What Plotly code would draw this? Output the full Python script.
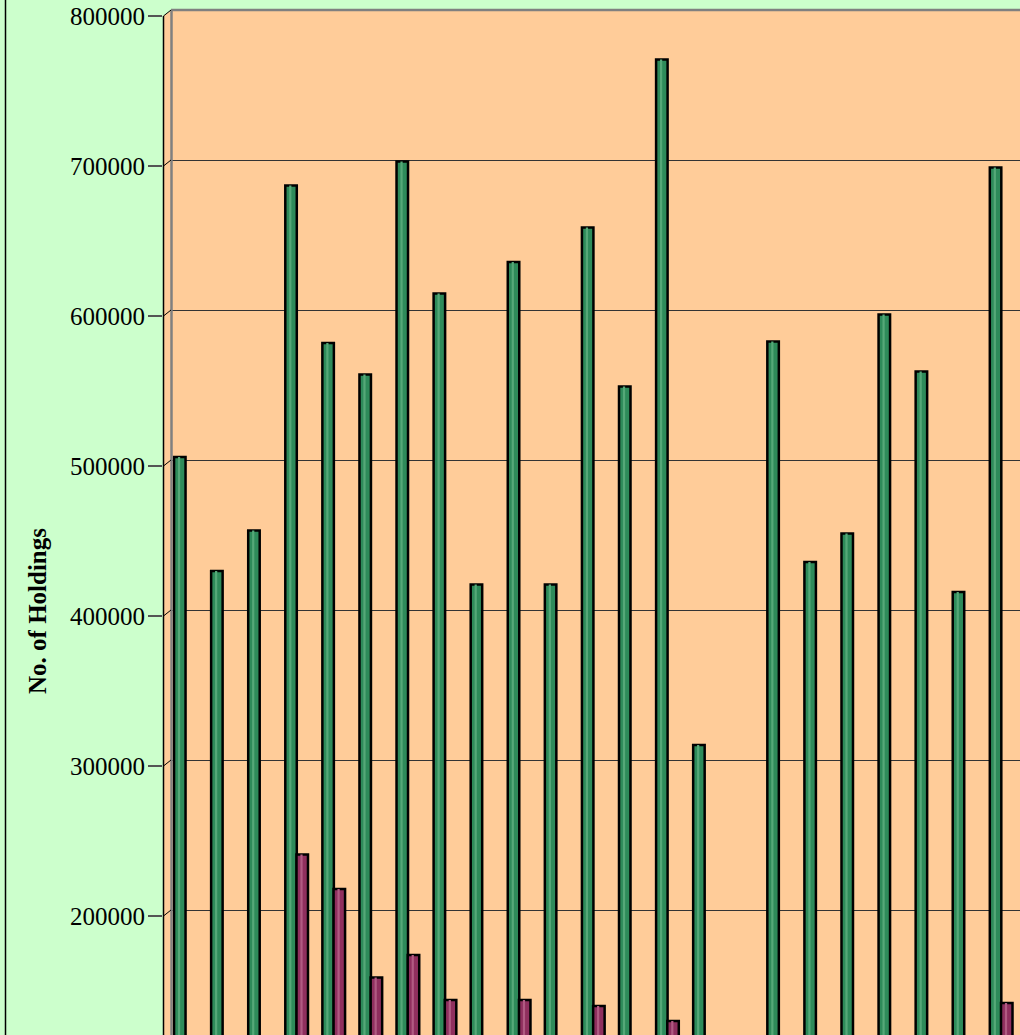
import plotly.graph_objects as go

# ---------------- data ----------------
categories = [str(i) for i in range(1, 24)]
series_green = [504000, 428000, 455000, 685000, 580000, 559000, 701000, 613000,
                419000, 634000, 419000, 657000, 551000, 769000, 312000, 90000,
                581000, 434000, 453000, 599000, 561000, 414000, 697000]
series_maroon = [95000, 60000, 70000, 239000, 216000, 157000, 172000, 142000,
                 85000, 142000, 75000, 138000, 110000, 128000, 40000, 20000,
                 100000, 65000, 90000, 105000, 115000, 80000, 140000]
y_ticks = [200000, 300000, 400000, 500000, 600000, 700000, 800000]
y_title = "No. of Holdings"

# ---------------- layout geometry ----------------
W, H = 1020, 1035
L, T = 163, 10
PW, PH = W - L, H - T
DEPTH = 9  # px, horizontal 3-D offset of back wall


def px_x(p):
    return (p - L) / PW


def px_y(p):
    return 1 - (p - T) / PH


SERIF = "Liberation Serif, Times New Roman, serif"
PEACH, MINT = "#FFCC99", "#CCFFCC"
GREEN, GREEN_HI = "#2E8B5A", "#55A878"
MAROON, MAROON_HI = "#8F2F5E", "#B05A82"

xs = list(range(len(categories)))
bw = 0.31
shift = 0.151

fig = go.Figure()
fig.add_trace(go.Bar(x=xs, y=series_green, width=bw, offset=-shift - bw / 2,
                     marker=dict(color=GREEN, line=dict(color="black", width=2.5)),
                     xaxis="x", yaxis="y", name="Series 1", showlegend=False))
fig.add_trace(go.Bar(x=xs, y=series_green, width=0.06, offset=-shift - 0.05,
                     marker=dict(color=GREEN_HI, line=dict(width=0)),
                     xaxis="x", yaxis="y", hoverinfo="skip", showlegend=False))
fig.add_trace(go.Bar(x=xs, y=series_maroon, width=bw, offset=shift - bw / 2,
                     marker=dict(color=MAROON, line=dict(color="black", width=2.5)),
                     xaxis="x", yaxis="y", name="Series 2", showlegend=False))
fig.add_trace(go.Bar(x=xs, y=series_maroon, width=0.06, offset=shift - 0.05,
                     marker=dict(color=MAROON_HI, line=dict(width=0)),
                     xaxis="x", yaxis="y", hoverinfo="skip", showlegend=False))
# invisible helpers so the tick axis (y2) and grid axis (y3) get drawn
for ax in ("y2", "y3"):
    fig.add_trace(go.Scatter(x=[xs[0]], y=[y_ticks[0]], mode="markers",
                             marker=dict(opacity=0, size=1), xaxis="x", yaxis=ax,
                             hoverinfo="skip", showlegend=False))

# scale: 150 px per 100000 ; front axis ticks, back-wall grid (6px higher), bars mid-depth
front_range = [120667, 804000]
grid_range = [116667, 800000]
bar_range = [118667, 802000]

shapes = [
    # peach side strip between front axis and back wall (hides grid there)
    dict(type="rect", xref="paper", yref="paper", layer="above",
         x0=0, x1=px_x(L + DEPTH), y0=px_y(H + 5), y1=1,
         fillcolor=PEACH, line=dict(width=0)),
    # mint triangle above the 3-D corner
    dict(type="path", xref="paper", yref="paper", layer="above",
         path=f"M 0 {px_y(16)} L {px_x(L + DEPTH)} {px_y(T)} L 0 {px_y(T - 1)} Z",
         fillcolor=MINT, line=dict(width=0)),
    # back wall left edge
    dict(type="line", xref="paper", yref="paper", layer="above",
         x0=px_x(L + DEPTH - 0.5), x1=px_x(L + DEPTH - 0.5), y0=px_y(T), y1=px_y(H + 5),
         line=dict(color="#808080", width=2.5)),
    # back wall top edge
    dict(type="line", xref="paper", yref="paper", layer="above",
         x0=px_x(L + DEPTH - 1), x1=1.02, y0=px_y(T), y1=px_y(T),
         line=dict(color="#808080", width=2.5)),
    # outer chart border on the left
    dict(type="line", xref="paper", yref="paper", layer="above",
         x0=px_x(5.5), x1=px_x(5.5), y0=px_y(-5), y1=px_y(H + 5),
         line=dict(color="black", width=1.5)),
    # front axis line
    dict(type="line", xref="paper", yref="paper", layer="above",
         x0=px_x(L + 0.5), x1=px_x(L + 0.5), y0=px_y(16), y1=px_y(H + 5),
         line=dict(color="black", width=1.5)),
]
# little diagonal connectors from front ticks to back-wall gridlines
for v in y_ticks:
    yp = 16 + (800000 - v) * 0.0015
    shapes.append(dict(type="line", xref="paper", yref="paper", layer="above",
                       x0=px_x(L + 0.5), x1=px_x(L + DEPTH - 1), y0=px_y(yp), y1=px_y(yp - 6),
                       line=dict(color="black", width=1)))

fig.update_layout(
    width=W, height=H,
    margin=dict(l=L, r=0, t=T, b=0, pad=0),
    paper_bgcolor=MINT,
    plot_bgcolor=PEACH,
    barmode="overlay",
    font=dict(family=SERIF, color="black", size=25),
    xaxis=dict(domain=[0, 1], range=[(L - 185.4) / 37.08, (W - 185.4) / 37.08],
               showticklabels=False, showgrid=False, zeroline=False, showline=False,
               ticks=""),
    yaxis=dict(anchor="x", range=bar_range,
               showticklabels=False, ticks="", showgrid=False, zeroline=False,
               showline=False),
    yaxis2=dict(overlaying="y", anchor="x", side="left", range=front_range,
                tickvals=y_ticks, ticktext=[str(v) for v in y_ticks],
                ticks="outside", ticklen=14, tickwidth=1.5, tickcolor="#555555",
                tickfont=dict(family=SERIF, size=25, color="black"),
                ticklabelstandoff=-2,
                showgrid=False, zeroline=False, showline=False),
    yaxis3=dict(overlaying="y", anchor="x", range=grid_range, tickvals=y_ticks,
                showticklabels=False, ticks="", showgrid=True,
                gridcolor="#333333", gridwidth=1.3, zeroline=False, showline=False),
    shapes=shapes,
    annotations=[dict(text=f"<b>{y_title}</b>", xref="paper", yref="paper",
                      x=px_x(37), y=px_y(611), xanchor="center", yanchor="middle",
                      textangle=-90, showarrow=False,
                      font=dict(family=SERIF, size=25, color="black"))],
)

fig.write_html("out.html", config={"displayModeBar": False},
               post_script="document.body.style.margin='0';document.body.style.overflow='hidden';")
